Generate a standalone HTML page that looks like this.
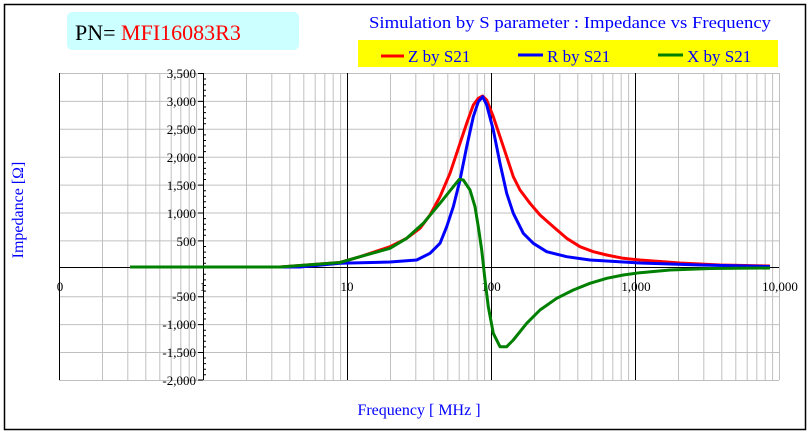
<!DOCTYPE html>
<html><head><meta charset="utf-8"><style>
body{margin:0;background:#fff;}
svg{display:block;font-family:"Liberation Serif",serif;}
</style></head><body>
<svg width="811" height="432" viewBox="0 0 811 432" xmlns="http://www.w3.org/2000/svg">
<rect x="0" y="0" width="811" height="432" fill="#fff"/>
<rect x="4.5" y="4.5" width="801" height="425" fill="none" stroke="#000" stroke-width="1.5"/>
<rect x="67" y="12" width="232" height="38" rx="5" fill="#ccffff"/>
<text x="75" y="40" font-size="22" fill="#000">PN= <tspan fill="#ff0000">MFI16083R3</tspan></text>
<text x="369" y="28" font-size="17" fill="#0000ff" textLength="402" lengthAdjust="spacingAndGlyphs">Simulation by S parameter : Impedance vs Frequency</text>
<rect x="358" y="40" width="420" height="27" fill="#ffff00"/>
<line x1="381" y1="56" x2="404" y2="56" stroke="#ff0000" stroke-width="3"/>
<text x="408" y="62" font-size="17" fill="#0000ff">Z by S21</text>
<line x1="518" y1="55" x2="543" y2="55" stroke="#0000ff" stroke-width="3"/>
<text x="547" y="62" font-size="17" fill="#0000ff">R by S21</text>
<line x1="658" y1="55" x2="683" y2="55" stroke="#008000" stroke-width="3"/>
<text x="687" y="62" font-size="17" fill="#0000ff">X by S21</text>
<g id="grid" stroke="#c0c0c0" stroke-width="1">
<line x1="59" y1="73.5" x2="779" y2="73.5"/>
<line x1="59" y1="101.4" x2="779" y2="101.4"/>
<line x1="59" y1="129.3" x2="779" y2="129.3"/>
<line x1="59" y1="157.2" x2="779" y2="157.2"/>
<line x1="59" y1="185.1" x2="779" y2="185.1"/>
<line x1="59" y1="213" x2="779" y2="213"/>
<line x1="59" y1="240.9" x2="779" y2="240.9"/>
<line x1="59" y1="296.7" x2="779" y2="296.7"/>
<line x1="59" y1="324.6" x2="779" y2="324.6"/>
<line x1="59" y1="352.5" x2="779" y2="352.5"/>
<line x1="59" y1="380.5" x2="779" y2="380.5"/>
<path d="M102.5,73V380M127.8,73V380M145.8,73V380M159.8,73V380M171.2,73V380M180.8,73V380M189.2,73V380M196.6,73V380
M246.5,73V380M271.8,73V380M289.8,73V380M303.8,73V380M315.2,73V380M324.8,73V380M333.2,73V380M340.6,73V380
M390.5,73V380M415.8,73V380M433.8,73V380M447.8,73V380M459.2,73V380M468.8,73V380M477.2,73V380M484.6,73V380
M534.5,73V380M559.8,73V380M577.8,73V380M591.8,73V380M603.2,73V380M612.8,73V380M621.2,73V380M628.6,73V380
M678.5,73V380M703.8,73V380M721.8,73V380M735.8,73V380M747.2,73V380M756.8,73V380M765.2,73V380M772.6,73V380
M779.5,73V380"/>
</g>
<g stroke="#000" stroke-width="1">
<line x1="59.5" y1="73" x2="59.5" y2="380"/>
<line x1="347.5" y1="73" x2="347.5" y2="380"/>
<line x1="491.5" y1="73" x2="491.5" y2="380"/>
<line x1="635.5" y1="73" x2="635.5" y2="380"/>
<line x1="59" y1="267.5" x2="779" y2="267.5"/>
<line x1="203.5" y1="73" x2="203.5" y2="380"/>
<path d="M198,73.5h5M198,101.4h5M198,129.3h5M198,157.2h5M198,185.1h5M198,213h5M198,240.9h5M198,296.7h5M198,324.6h5M198,352.5h5M198,380h5
M203,79h3M203,84.7h3M203,90.3h3M203,95.9h3M203,107h3M203,112.6h3M203,118.2h3M203,123.7h3M203,134.9h3M203,140.5h3M203,146h3M203,151.6h3M203,162.8h3M203,168.4h3M203,173.9h3M203,179.5h3M203,190.7h3M203,196.3h3M203,201.8h3M203,207.4h3M203,218.6h3M203,224.2h3M203,229.7h3M203,235.3h3M203,246.5h3M203,252.1h3M203,257.6h3M203,263.2h3M203,274.3h3M203,279.9h3M203,285.5h3M203,291.1h3M203,302.3h3M203,307.9h3M203,313.4h3M203,319h3M203,330.2h3M203,335.8h3M203,341.3h3M203,346.9h3M203,358h3M203,363.6h3M203,369.2h3M203,374.8h3"/>
</g>
<g font-size="13" fill="#000" text-anchor="end">
<text x="196" y="78">3,500</text>
<text x="196" y="106">3,000</text>
<text x="196" y="134">2,500</text>
<text x="196" y="162">2,000</text>
<text x="196" y="190">1,500</text>
<text x="196" y="218">1,000</text>
<text x="196" y="246">500</text>
<text x="196" y="301">-500</text>
<text x="196" y="329">-1,000</text>
<text x="196" y="357">-1,500</text>
<text x="196" y="385">-2,000</text>
</g>
<g font-size="13" fill="#000" text-anchor="middle">
<text x="60" y="291">0</text>
<text x="203" y="291">1</text>
<text x="347" y="291">10</text>
<text x="491" y="291">100</text>
<text x="636" y="291">1,000</text>
<text x="780" y="291">10,000</text>
</g>
<text x="419" y="415" font-size="16" fill="#0000ff" text-anchor="middle">Frequency [ MHz ]</text>
<text transform="translate(23,210) rotate(-90)" font-size="16" fill="#0000ff" text-anchor="middle">Impedance [Ω]</text>
<g fill="none" stroke-width="3" stroke-linejoin="round">
<path stroke="#ff0000" d="M130,267L280,267L340,262.5L360,256.7L390,246.7L406.7,238.3L420,228.3L430,215L440,196.7L450,173.3L460,143.3L466.7,123.3L473.3,105L478.3,98.3L482.7,96L486.7,100L493.3,116.7L500,136.7L506.7,156.7L513.3,176.7L520,190L530,203.3L540,215L553.3,226.7L566.7,238.3L580,246.7L593.3,251.7L606.7,255L623.3,258.3L640,260L680,263L720,265L770,266"/>
<path stroke="#0000ff" d="M130,267L300,267L340,263.3L390,262L416.7,260L430,253.3L440,243.3L446.7,226.7L453.3,206.7L460,180L466.7,146.7L473.3,116.7L478.3,101.7L482.7,96.7L486.7,105L493.3,130L500,163.3L506.7,193.3L513.3,213.3L523.3,233.3L533.3,243.3L546.7,251.7L566.7,256.7L590,260L640,263L700,265L770,266.5"/>
<path stroke="#008000" d="M130,267L280,267L340,262.5L360,256.7L390,248.3L406.7,238.3L423.3,223.3L440,203.3L453.3,186.7L459.3,179.3L463.3,180L470,190L475,206.7L478.3,226.7L481.7,250L485,280L488.3,306.7L493.3,333.3L500,346.7L506.7,346.7L513.3,340L526.7,323.3L540,310L556.7,298.3L573.3,290L590,283.3L606.7,278.3L623.3,275L640,272.7L670,270L710,268.5L770,268"/>
</g>
</svg>
</body></html>
